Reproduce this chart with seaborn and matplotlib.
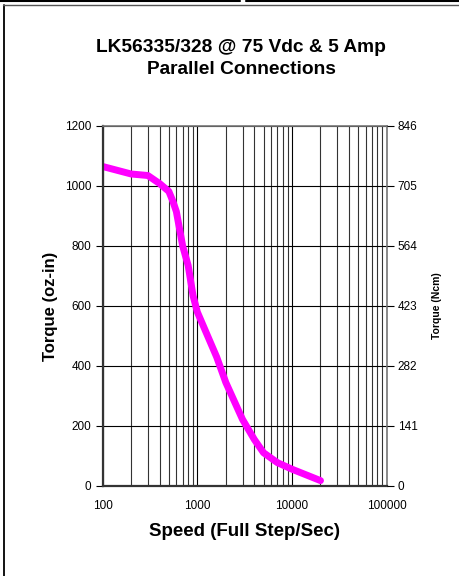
import numpy as np
import pandas as pd
import matplotlib
matplotlib.use("Agg")
import matplotlib.pyplot as plt
import seaborn as sns
from matplotlib.ticker import LogLocator, FixedLocator, NullFormatter
from matplotlib.lines import Line2D

# data
speed = [100, 200, 300, 400, 500, 550, 600, 700, 800, 900, 1000, 1600, 2000, 3000, 4000, 5000, 7000, 10000, 20000]
torque = [1065, 1040, 1035, 1008, 982, 950, 915, 800, 735, 635, 580, 430, 345, 222, 155, 111, 78, 56, 18]
left_ticks = [0, 200, 400, 600, 800, 1000, 1200]
right_ticks = [0, 141, 282, 423, 564, 705, 846]
x_ticks = [100, 1000, 10000, 100000]

df = pd.DataFrame({"speed": speed, "torque": torque})

sns.set_style("white")
plt.rcParams["font.family"] = ["Liberation Sans", "DejaVu Sans"]
plt.rcParams["text.color"] = "black"
plt.rcParams["axes.labelcolor"] = "black"
plt.rcParams["xtick.color"] = "black"
plt.rcParams["ytick.color"] = "black"

fig = plt.figure(figsize=(4.59, 5.76), dpi=100)
ax = fig.add_axes([0.2237, 0.15625, 0.6187, 0.625])

# frame lines around the figure (cropped screenshot look)
fig.add_artist(Line2D([3.5/459, 3.5/459], [0, 1 - 5/576], color="black", lw=1.3, transform=fig.transFigure))
fig.add_artist(Line2D([3/459, 1], [1 - 5/576, 1 - 5/576], color="#555555", lw=1.0, transform=fig.transFigure))
fig.add_artist(Line2D([0, 240/459], [1 - 0.8/576, 1 - 0.8/576], color="black", lw=1.5, transform=fig.transFigure))
fig.add_artist(Line2D([246/459, 1], [1 - 0.8/576, 1 - 0.8/576], color="black", lw=1.5, transform=fig.transFigure))

sns.lineplot(data=df, x="speed", y="torque", ax=ax, color="#ff00ff", lw=5, solid_capstyle="round")

ax.set_xscale("log")
ax.set_xlim(100, 100000)
ax.set_ylim(0, 1200)
ax.xaxis.set_major_locator(FixedLocator(x_ticks))
ax.set_xticklabels([str(t) for t in x_ticks])
ax.xaxis.set_minor_locator(LogLocator(base=10, subs=np.arange(2, 10)))
ax.xaxis.set_minor_formatter(NullFormatter())
ax.set_yticks(left_ticks)

ax.grid(True, which="major", axis="both", color="black", lw=0.8)
ax.grid(True, which="minor", axis="x", color="#333333", lw=0.8)
ax.set_axisbelow(True)

for side in ["left", "bottom"]:
    ax.spines[side].set_color("#333333")
    ax.spines[side].set_linewidth(1.6)
for side in ["top", "right"]:
    ax.spines[side].set_color("#777777")
    ax.spines[side].set_linewidth(1.2)

ax.tick_params(axis="y", which="major", direction="out", length=5, width=0.8, labelsize=8.5, pad=3)
ax.tick_params(axis="x", which="major", direction="inout", length=8, width=0.8, labelsize=8.5, pad=6)
ax.tick_params(axis="x", which="minor", direction="inout", length=6, width=0.8)

ax.set_xlabel("Speed (Full Step/Sec)", fontsize=13.5, fontweight="bold", labelpad=8)
ax.set_ylabel("Torque (oz-in)", fontsize=12, fontweight="bold", labelpad=5)

ax2 = ax.twinx()
ax2.set_ylim(0, 846)
ax2.set_yticks(right_ticks)
ax2.tick_params(axis="y", direction="out", length=5, width=0.8, labelsize=8.5, pad=3)
ax2.set_ylabel("Torque (Ncm)", fontsize=7.5, fontweight="bold", labelpad=10)
for s in ax2.spines.values():
    s.set_visible(False)

fig.text(0.526, 0.898, "LK56335/328 @ 75 Vdc & 5 Amp\nParallel Connections",
         ha="center", va="center", fontsize=13.8, fontweight="bold", linespacing=1.38)

fig.savefig("out.png", dpi=100)
